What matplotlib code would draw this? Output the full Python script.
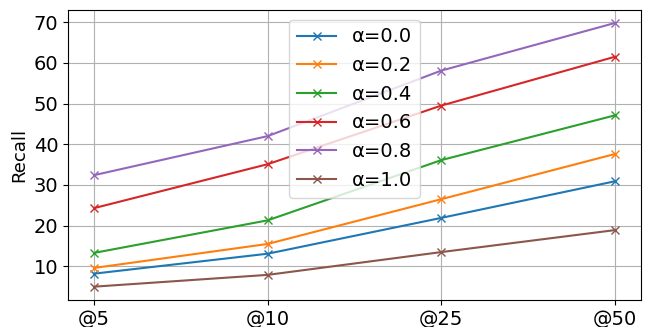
import numpy as np
import matplotlib
matplotlib.use('Agg')
import matplotlib.pyplot as plt
from matplotlib.ticker import MultipleLocator

ks = ['@5', '@10', '@25', '@50']
alphas = ['0.0', '0.2', '0.4', '0.6', '0.8', '1.0']

recall_00 = [8.2, 13.1, 21.9, 30.9]
recall_02 = [9.6, 15.5, 26.5, 37.6]
recall_04 = [13.3, 21.3, 36.1, 47.1]
recall_06 = [24.3, 35.1, 49.5, 61.5]
recall_08 = [32.4, 42.0, 58.1, 69.8]
recall_10 = [5.0, 7.9, 13.5, 18.9]

series = [recall_00, recall_02, recall_04, recall_06, recall_08, recall_10]

fig, ax = plt.subplots(figsize=(6.54, 3.27), dpi=100)

for a, vals in zip(alphas, series):
    ax.plot(ks, vals, marker='x', label='α=' + a)

ax.set_ylabel('Recall', fontsize=13)
ax.yaxis.set_major_locator(MultipleLocator(10))
ax.tick_params(axis='both', labelsize=14)
ax.grid(True)
ax.legend(loc='upper center', fontsize=14)

fig.subplots_adjust(left=0.104, right=0.98, top=0.97, bottom=0.083)
fig.savefig('out.png', dpi=100)
